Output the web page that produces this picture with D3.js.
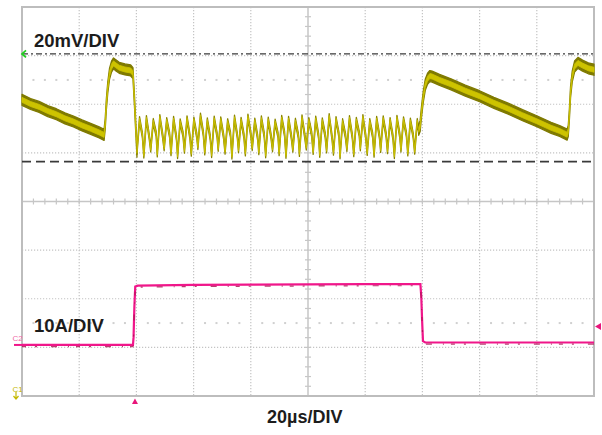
<!DOCTYPE html>
<html><head><meta charset="utf-8">
<script src="https://cdn.jsdelivr.net/npm/d3@7"></script>
<style>html,body{margin:0;padding:0;background:#fff}svg{display:block}</style>
</head><body><svg id="c" width="602" height="435"></svg>
<script>
// ---- data ----
const timeDomain = [0, 200];        // µs, 20µs/DIV, 10 divisions
const voltDomain = [-80, 80];       // mV relative to screen centre, 20mV/DIV
const currDomain = [-10.5, 69.5];   // A, 10A/DIV, relative to C2 ground
const cursorLevels = [60.7, 16.4];  // mV (dash-dot, dashed)
const triggerTime = 39.5;           // µs
const triggerLevel = 3.8;           // A
const labels = {volt: "20mV/DIV", curr: "10A/DIV", time: "20µs/DIV"};

// C1 (output ripple voltage) [µs, mV]
const c1RampA = [[0,41.8],[3,40.1],[6,38.9],[9,37.2],[12,35.9],[15,34.2],[18,32.9],[21,31.3],[24,29.9],[27,28.4],[28.7,27.4],
  [29.1,32],[29.5,40],[30.0,47],[30.6,52.5],[31.3,55.5],[32.0,56.8],[32.6,56.2],[34.0,55.0],[36.0,54.3],[38.0,53.9],[38.8,52.8],
  [39.3,42],[39.8,30],[40.2,20.5]];
const c1Ripple = [[40.2,20.5],[41.1,33.8],[42.1,27.2],[42.6,19.0],[43.5,34.2],[44.5,26.5],[45.0,21.5],[45.9,33.0],[46.9,27.8],
  [47.3,19.5],[48.2,34.6],[49.2,26.9],[49.7,22.0],[50.6,33.4],[51.6,27.4],[52.1,20.0],[53.0,33.9],[54.0,26.2],
  [54.4,18.8],[55.3,32.8],[56.3,27.6],[56.8,21.0],[57.7,34.1],[58.7,26.8],[59.2,19.8],[60.1,33.6],[61.1,27.1],
  [61.5,22.5],[62.4,35.2],[63.4,27.9],[63.9,20.3],[64.8,33.3],[65.8,26.4],[66.3,19.2],[67.2,34.0],[68.2,27.3],
  [68.6,21.8],[69.5,33.7],[70.5,26.7],[71.0,20.6],[71.9,32.9],[72.9,27.5],[73.4,18.6],[74.3,34.4],[75.3,26.9],
  [75.7,21.2],[76.6,33.5],[77.6,27.0],[78.1,19.9],[79.0,34.8],[80.0,27.7],[80.5,22.1],[81.4,33.2],[82.4,26.3],
  [82.8,20.4],[83.7,34.1],[84.7,27.2],[85.2,19.1],[86.1,33.6],[87.1,26.6],[87.6,21.6],[88.5,32.7],[89.5,27.4],
  [89.9,20.0],[90.8,34.3],[91.8,27.8],[92.3,18.9],[93.2,33.9],[94.2,26.5],[94.7,21.4],[95.6,33.1],[96.6,27.1],
  [97.0,19.7],[97.9,34.5],[98.9,26.8],[99.4,22.3],[100.3,33.4],[101.3,27.6],[101.8,20.5],[102.7,34.0],[103.7,26.9],
  [104.1,19.3],[105.0,33.3],[106.0,27.3],[106.5,21.1],[107.4,35.0],[108.4,26.4],[108.9,20.2],[109.8,33.8],[110.8,27.5],
  [111.2,18.7],[112.1,32.9],[113.1,27.0],[113.6,21.7],[114.5,34.2],[115.5,26.7],[116.0,19.6],[116.9,33.5],[117.9,27.9],
  [118.3,22.0],[119.2,34.6],[120.2,26.6],[120.7,20.1],[121.6,33.0],[122.6,27.2],[123.1,19.4],[124.0,33.9],[125.0,26.8],
  [125.4,21.3],[126.3,34.1],[127.3,27.4],[127.8,20.8],[128.7,33.4],[129.7,26.5],[130.2,18.8],[131.1,34.3],[132.1,27.1],
  [132.5,21.5],[133.4,33.7],[134.4,27.6],[134.9,19.9],[135.8,33.2],[136.8,26.9],[137.3,20.6],[138.2,33.0],[138.7,29.5]];
const c1RampB = [[138.7,29.5],[139.2,31],[139.7,37],[140.3,43],[141.0,48],[141.8,50.5],[142.6,51.6],[143.4,51.4],[146,50.0],
  [150,48.2],[155,45.6],[160,43.3],[165,40.6],[170,38.2],[175,35.5],[180,33.0],[185,30.3],[188,29.0],[190.6,27.5],
  [191.0,29],[191.4,36],[191.8,45],[192.4,51.5],[193.2,55.5],[194.4,57.0],[196,55.9],[198,54.8],[200,54.2]];

// C2 (inductor / load current) [µs, A]
const c2Trace = [[0,0],[38.8,0],[39.0,1.5],[39.3,8],[39.6,12.0],[40.5,12.2],[60,12.35],[80,12.4],[100,12.45],[120,12.5],
  [139.3,12.5],[139.6,10],[139.9,5],[140.2,0.8],[141,0.5],[200,0.5]];

// ---- drawing ----
const svg = d3.select("#c");
const L = 22, R = 594, T = 7, B = 396;
const x = d3.scaleLinear().domain(timeDomain).range([L, R]);
const yV = d3.scaleLinear().domain(voltDomain).range([B, T]);
const yI = d3.scaleLinear().domain(currDomain).range([B, T]);
const grid = svg.append("g");

// dotted division lines
const xDiv = d3.range(timeDomain[0] + 20, timeDomain[1], 20).filter(d => d !== 100);
const yDiv = d3.range(voltDomain[0] + 20, voltDomain[1], 20).filter(d => d !== 0);
grid.selectAll("line.vx").data(xDiv).join("line")
  .attr("x1", d => x(d)).attr("x2", d => x(d)).attr("y1", T).attr("y2", B)
  .attr("stroke", "#c4c4c4").attr("stroke-width", 1.2).attr("stroke-dasharray", "1.2,1.8");
grid.selectAll("line.hy").data(yDiv).join("line")
  .attr("x1", L).attr("x2", R).attr("y1", d => yV(d)).attr("y2", d => yV(d))
  .attr("stroke", "#c4c4c4").attr("stroke-width", 1.2).attr("stroke-dasharray", "1.2,1.8");

// mid-row dot rows
const dotX = d3.range(4, 200, 4).filter(d => d % 20 !== 0);
[50, -50].forEach(v => {
  grid.selectAll(null).data(dotX).join("rect")
    .attr("x", d => x(d) - 1).attr("y", yV(v) - 1).attr("width", 2).attr("height", 2).attr("fill", "#d0d0d0");
});

// centre axes with minor ticks
grid.append("line").attr("x1", L).attr("x2", R).attr("y1", yV(0)).attr("y2", yV(0)).attr("stroke", "#c6c6c6").attr("stroke-width", 1.5);
grid.append("line").attr("x1", x(100)).attr("x2", x(100)).attr("y1", T).attr("y2", B).attr("stroke", "#c6c6c6").attr("stroke-width", 1.5);
grid.selectAll(null).data(d3.range(4, 200, 4)).join("line")
  .attr("x1", d => x(d)).attr("x2", d => x(d)).attr("y1", yV(0) - 3).attr("y2", yV(0) + 3)
  .attr("stroke", "#c6c6c6").attr("stroke-width", 1.2);
grid.selectAll(null).data(d3.range(-76, 80, 4)).join("line")
  .attr("x1", x(100) - 3).attr("x2", x(100) + 3).attr("y1", d => yV(d)).attr("y2", d => yV(d))
  .attr("stroke", "#c6c6c6").attr("stroke-width", 1.2);

// frame
grid.append("rect").attr("x", L).attr("y", T).attr("width", R - L).attr("height", B - T)
  .attr("fill", "none").attr("stroke", "#bdbdbd").attr("stroke-width", 2);

// cursors
svg.append("line").attr("x1", L).attr("x2", R).attr("y1", yV(cursorLevels[0])).attr("y2", yV(cursorLevels[0]))
  .attr("stroke", "#3a3a3a").attr("stroke-width", 1.4).attr("stroke-dasharray", "6,3,2,3");
svg.append("line").attr("x1", L).attr("x2", R).attr("y1", yV(cursorLevels[1])).attr("y2", yV(cursorLevels[1]))
  .attr("stroke", "#3a3a3a").attr("stroke-width", 1.6).attr("stroke-dasharray", "9,5");
// green cursor marker
const gy = yV(cursorLevels[0]);
svg.append("path").attr("d", `M${L + 4},${gy - 3.5} L${L},${gy} L${L + 4},${gy + 3.5}`)
  .attr("fill", "none").attr("stroke", "#1ed21e").attr("stroke-width", 1.8);

// C1 band
function band(data, th, outer, inner, thIn) {
  const a = d3.area().x(d => x(d[0])).y0(d => yV(d[1]) - th / 2).y1(d => yV(d[1]) + th / 2);
  svg.append("path").attr("d", a(data)).attr("fill", outer).attr("stroke", outer).attr("stroke-width", 1.3).attr("stroke-linejoin", "round");
  const b = d3.area().x(d => x(d[0])).y0(d => yV(d[1]) - thIn / 2).y1(d => yV(d[1]) + thIn / 2);
  svg.append("path").attr("d", b(data)).attr("fill", inner).attr("stroke", inner).attr("stroke-width", 0.8);
}
band(c1RampA, 11, "#7f7a00", "#cdc300", 5);
band(c1Ripple, 5.5, "#8a8400", "#c9bf00", 2.2);
band(c1RampB, 11, "#7f7a00", "#cdc300", 5);

// C2 trace
const lineI = d3.line().x(d => x(d[0])).y(d => yI(d[1]));
svg.append("path").attr("d", lineI(c2Trace)).attr("fill", "none").attr("stroke", "#f0168a").attr("stroke-width", 2.2);
svg.append("path").attr("d", lineI(c2Trace)).attr("fill", "none").attr("stroke", "#a8104f").attr("stroke-width", 1.2)
  .attr("transform", "translate(0,1.6)").attr("stroke-dasharray", "4,9,2,14,6,11,1,7").attr("opacity", 0.8);

// C2 ground marker
svg.append("line").attr("x1", 14).attr("x2", L).attr("y1", yI(0)).attr("y2", yI(0)).attr("stroke", "#f0168a").attr("stroke-width", 2);
svg.append("text").attr("x", 12.5).attr("y", yI(0) - 4).text("C2")
  .attr("font-family", "Liberation Sans, Arial, sans-serif").attr("font-size", 8).attr("fill", "#f06aa8");
// C1 ground marker (off-screen below)
svg.append("text").attr("x", 12.5).attr("y", 392).text("C1")
  .attr("font-family", "Liberation Sans, Arial, sans-serif").attr("font-size", 8).attr("fill", "#c4b800");
svg.append("path").attr("d", "M16,392 L16,399 M13.5,396 L16,399 L18.5,396").attr("fill", "none").attr("stroke", "#c4b800").attr("stroke-width", 1.2);

// trigger markers
const tx = x(triggerTime);
svg.append("path").attr("d", `M${tx - 3},${B + 8} L${tx + 3},${B + 8} L${tx},${B + 2.5} Z`).attr("fill", "#e8157a");
const ty = yI(triggerLevel);
svg.append("path").attr("d", `M${R + 1},${ty} L${R + 7},${ty - 3.5} L${R + 7},${ty + 3.5} Z`).attr("fill", "#e8157a");

// labels
const font = "Liberation Sans, Arial, Helvetica, sans-serif";
svg.append("text").attr("x", 34).attr("y", 47).text(labels.volt)
  .attr("font-family", font).attr("font-weight", "bold").attr("font-size", 18.5).attr("fill", "#1c1c1c");
svg.append("text").attr("x", 34).attr("y", 332).text(labels.curr)
  .attr("font-family", font).attr("font-weight", "bold").attr("font-size", 18.5).attr("fill", "#1c1c1c");
svg.append("text").attr("x", 267).attr("y", 422.5).text(labels.time)
  .attr("font-family", font).attr("font-weight", "bold").attr("font-size", 18).attr("fill", "#1c1c1c");
</script></body></html>
